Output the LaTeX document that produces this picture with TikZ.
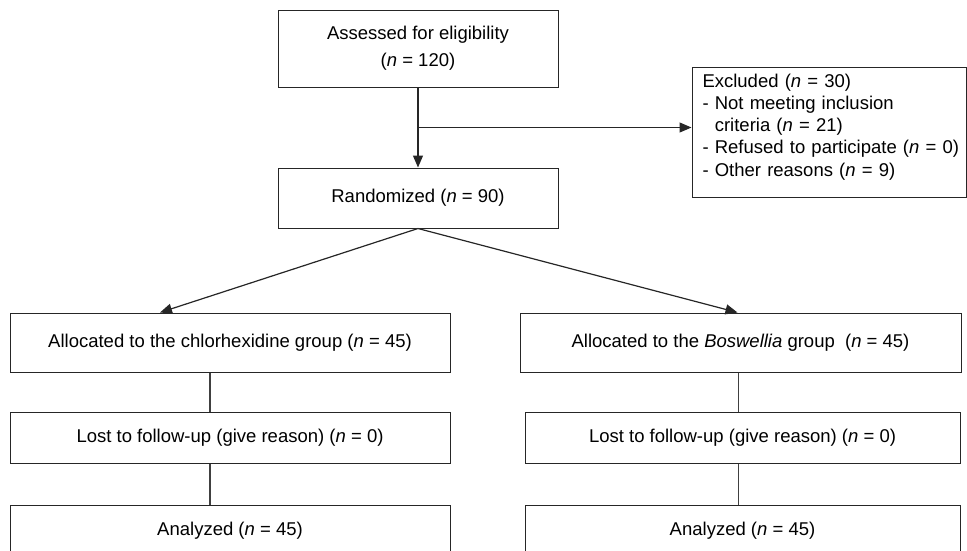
\documentclass[tikz,border=0pt]{standalone}
\usepackage{fontspec}
\setmainfont{Liberation Sans}
\usetikzlibrary{arrows.meta, positioning, calc}

\begin{document}
\begin{tikzpicture}[
    x=1pt, y=-1pt,
    node distance=39pt,
    stage/.style={
        rectangle,
        draw=black!85,
        line width=1pt,
        minimum width=#1,
        minimum height=51pt,
        inner sep=0pt,
        align=center,
        font=\fontsize{18.5}{27}\selectfont
    },
    link/.style={draw=black!75, line width=1.2pt},
    arrow/.style={-{Triangle[length=12pt,width=10pt]}, draw=black!85, line width=1.2pt}
]
    \path[use as bounding box, clip] (0,0) rectangle (967,550);

    \node[stage=280pt, minimum height=77pt] (assess) at (418,48.5) {Assessed for eligibility\\(\textit{n} = 120)};
    \node[stage=280pt, minimum height=60pt, below=80pt of assess] (rand) {Randomized (\textit{n} = 90)};
    \node[stage=274pt, minimum height=130pt, text width=253pt, inner xsep=10.5pt, align=left,
          font=\fontsize{18.5}{22.2}\selectfont] (excl) at (829,132)
        {Excluded (\textit{n} = 30)\\
         - Not meeting inclusion\\
         \phantom{-\ }criteria (\textit{n} = 21)\\
         \mbox{- Refused to participate (\textit{n} = 0)}\\
         - Other reasons (\textit{n} = 9)\\[-8pt]\mbox{}};

    \node[stage=440pt, minimum height=59pt] (alloc1) at (230,342.5) {Allocated to the chlorhexidine group (\textit{n} = 45)};
    \node[stage=441pt, minimum height=59pt] (alloc2) at (740.5,342.5) {Allocated to the \textit{Boswellia} group~ (\textit{n} = 45)};
    \node[stage=440pt, below=of alloc1] (lost1) {Lost to follow-up (give reason) (\textit{n} = 0)};
    \node[stage=435pt, below=of alloc2, xshift=2pt] (lost2) {Lost to follow-up (give reason) (\textit{n} = 0)};
    \node[stage=440pt, below=41pt of lost1] (anal1) {Analyzed (\textit{n} = 45)};
    \node[stage=435pt, below=41pt of lost2] (anal2) {Analyzed (\textit{n} = 45)};

    \coordinate (split) at ($(assess.south)!0.5!(rand.north)$);
    \draw[arrow] (assess) -- (rand);
    \draw[arrow] (split) -- (split -| excl.west);
    \draw[arrow] (rand.south) -- ([xshift=-70pt]alloc1.north);
    \draw[arrow] (rand.south) -- ([xshift=-3pt]alloc2.north);

    \draw[link] ([xshift=-20pt]alloc1.south) -- ([xshift=-20pt]lost1.north);
    \draw[link] ([xshift=-20pt]lost1.south) -- ([xshift=-20pt]anal1.north);
    \draw[link] ([xshift=-2pt]alloc2.south) -- ([xshift=-4pt]lost2.north);
    \draw[link] ([xshift=-4pt]lost2.south) -- ([xshift=-4pt]anal2.north);
\end{tikzpicture}
\end{document}
